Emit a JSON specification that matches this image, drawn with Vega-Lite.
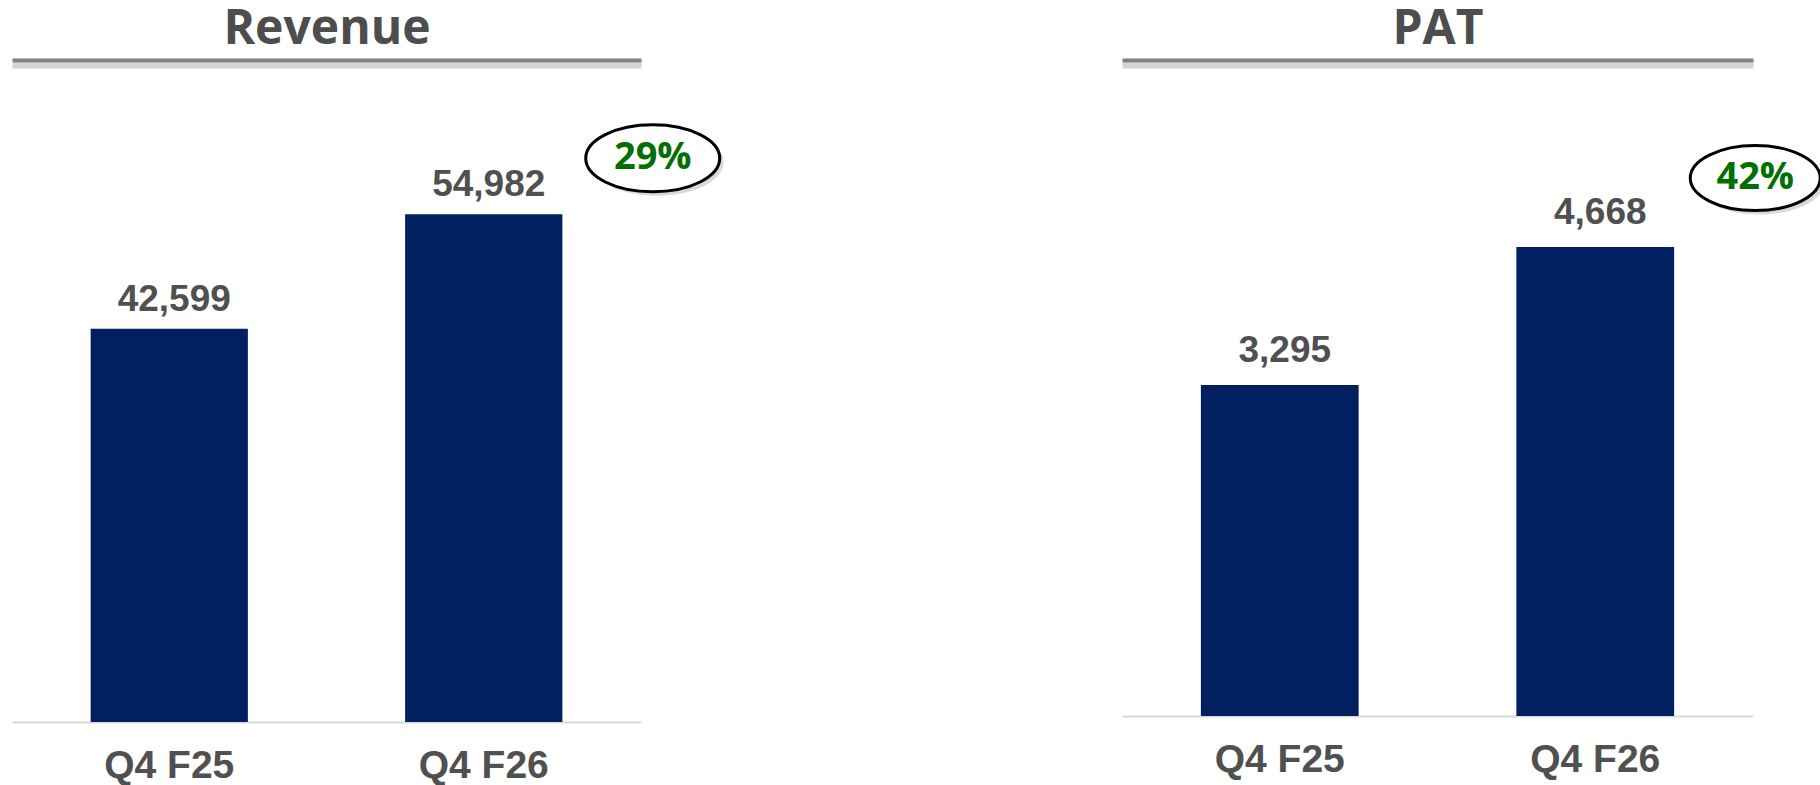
{
  "$schema": "https://vega.github.io/schema/vega-lite/v6.json",
  "background": "white",
  "padding": {"left": 12, "top": 5, "right": 0, "bottom": 0},
  "autosize": {"type": "pad"},
  "bounds": "flush",
  "spacing": 481,
  "config": {"view": {"stroke": null}},
  "datasets": {
    "rev": [{"period": "Q4 F25", "value": 42599}, {"period": "Q4 F26", "value": 54982}],
    "revg": [{"period": "Q4 F26", "value": 54982, "growth": "29%"}],
    "pat": [{"period": "Q4 F25", "value": 3295}, {"period": "Q4 F26", "value": 4668}],
    "patg": [{"period": "Q4 F26", "value": 4668, "growth": "42%"}]
  },
  "hconcat": [
    {
      "width": 629,
      "height": 662,
      "resolve": {"axis": {"x": "independent"}},
      "layer": [
        {
          "data": {"name": "rev"},
          "mark": {"type": "bar", "color": "#021F5F", "width": {"band": 0.5}},
          "encoding": {
            "x": {"field": "period", "type": "nominal", "sort": null, "scale": {"paddingInner": 0, "paddingOuter": 0},
              "axis": {"orient": "bottom", "title": null, "domainColor": "#d9d9d9", "domainWidth": 2, "ticks": false, "tickSize": 0, "labelPadding": 24, "labelFont": "Liberation Sans", "labelFontSize": 39, "labelFontWeight": "bold", "labelColor": "#505050", "labelAngle": 0, "grid": false}},
            "y": {"field": "value", "type": "quantitative", "scale": {"domain": [0, 71700], "nice": false, "zero": true}, "axis": null}
          }
        },
        {
          "data": {"name": "rev"},
          "mark": {"type": "text", "align": "center", "baseline": "alphabetic", "dx": 5, "dy": -18, "font": "Liberation Sans", "fontSize": 37, "fontWeight": "bold", "color": "#505050"},
          "encoding": {
            "x": {"field": "period", "type": "nominal", "sort": null,
              "axis": {"orient": "top", "title": "Revenue", "titleFont": "Open Sans", "titleFontSize": 48, "titleFontWeight": "bold", "titleColor": "#4d4d4d", "titlePadding": 7, "labels": false, "ticks": false, "tickSize": 0, "domainColor": "#808080", "domainWidth": 4, "grid": false, "zindex": 2}},
            "y": {"field": "value", "type": "quantitative", "scale": {"domain": [0, 71700], "nice": false}, "axis": null},
            "text": {"field": "value", "type": "quantitative", "format": ","}
          }
        },
        {
          "data": {"name": "revg"},
          "mark": {"type": "point", "shape": "M 1.582 -0.776 A 1 0.5 0 1 1 3.582 -0.776 A 1 0.5 0 1 1 1.582 -0.776 Z", "size": 17956, "filled": true, "fill": "#a0a0a0", "stroke": null, "opacity": 0.4},
          "encoding": {
            "x": {"field": "period", "type": "nominal", "sort": null,
              "axis": {"orient": "top", "title": null, "labels": false, "ticks": false, "tickSize": 0, "domainColor": "#d4d4d4", "domainWidth": 6, "offset": -5, "grid": false, "zindex": 1}},
            "y": {"field": "value", "type": "quantitative", "scale": {"domain": [0, 71700], "nice": false}, "axis": null}
          }
        },
        {
          "data": {"name": "revg"},
          "mark": {"type": "point", "shape": "M 1.522 -0.836 A 1 0.5 0 1 1 3.522 -0.836 A 1 0.5 0 1 1 1.522 -0.836 Z", "size": 17956, "filled": true, "fill": "white", "stroke": "black", "strokeWidth": 3, "opacity": 1},
          "encoding": {
            "x": {"field": "period", "type": "nominal", "sort": null, "axis": null},
            "y": {"field": "value", "type": "quantitative", "scale": {"domain": [0, 71700], "nice": false}, "axis": null}
          }
        },
        {
          "data": {"name": "revg"},
          "mark": {"type": "text", "align": "center", "baseline": "middle", "dx": 169, "dy": -56, "font": "Open Sans", "fontSize": 38, "fontWeight": "bold", "color": "#007000"},
          "encoding": {
            "x": {"field": "period", "type": "nominal", "sort": null, "axis": null},
            "y": {"field": "value", "type": "quantitative", "scale": {"domain": [0, 71700], "nice": false}, "axis": null},
            "text": {"field": "growth", "type": "nominal"}
          }
        }
      ]
    },
    {
      "width": 631,
      "height": 656,
      "resolve": {"axis": {"x": "independent"}},
      "layer": [
        {
          "data": {"name": "pat"},
          "mark": {"type": "bar", "color": "#021F5F", "width": {"band": 0.5}},
          "encoding": {
            "x": {"field": "period", "type": "nominal", "sort": null, "scale": {"paddingInner": 0, "paddingOuter": 0},
              "axis": {"orient": "bottom", "title": null, "domainColor": "#d9d9d9", "domainWidth": 2, "ticks": false, "tickSize": 0, "labelPadding": 24, "labelFont": "Liberation Sans", "labelFontSize": 39, "labelFontWeight": "bold", "labelColor": "#505050", "labelAngle": 0, "grid": false}},
            "y": {"field": "value", "type": "quantitative", "scale": {"domain": [0, 6530], "nice": false, "zero": true}, "axis": null}
          }
        },
        {
          "data": {"name": "pat"},
          "mark": {"type": "text", "align": "center", "baseline": "alphabetic", "dx": 5, "dy": -23, "font": "Liberation Sans", "fontSize": 37, "fontWeight": "bold", "color": "#505050"},
          "encoding": {
            "x": {"field": "period", "type": "nominal", "sort": null,
              "axis": {"orient": "top", "title": "PAT", "titleFont": "Open Sans", "titleFontSize": 48, "titleFontWeight": "bold", "titleColor": "#4d4d4d", "titlePadding": 7, "labels": false, "ticks": false, "tickSize": 0, "domainColor": "#808080", "domainWidth": 4, "grid": false, "zindex": 2}},
            "y": {"field": "value", "type": "quantitative", "scale": {"domain": [0, 6530], "nice": false}, "axis": null},
            "text": {"field": "value", "type": "quantitative", "format": ","}
          }
        },
        {
          "data": {"name": "patg"},
          "mark": {"type": "point", "shape": "M 1.523 -1 A 1 0.5 0 1 1 3.523 -1 A 1 0.5 0 1 1 1.523 -1 Z", "size": 16900, "filled": true, "fill": "#a0a0a0", "stroke": null, "opacity": 0.4},
          "encoding": {
            "x": {"field": "period", "type": "nominal", "sort": null,
              "axis": {"orient": "top", "title": null, "labels": false, "ticks": false, "tickSize": 0, "domainColor": "#d4d4d4", "domainWidth": 6, "offset": -5, "grid": false, "zindex": 1}},
            "y": {"field": "value", "type": "quantitative", "scale": {"domain": [0, 6530], "nice": false}, "axis": null}
          }
        },
        {
          "data": {"name": "patg"},
          "mark": {"type": "point", "shape": "M 1.4615 -1.0615 A 1 0.5 0 1 1 3.4615 -1.0615 A 1 0.5 0 1 1 1.4615 -1.0615 Z", "size": 16900, "filled": true, "fill": "white", "stroke": "black", "strokeWidth": 3, "opacity": 1},
          "encoding": {
            "x": {"field": "period", "type": "nominal", "sort": null, "axis": null},
            "y": {"field": "value", "type": "quantitative", "scale": {"domain": [0, 6530], "nice": false}, "axis": null}
          }
        },
        {
          "data": {"name": "patg"},
          "mark": {"type": "text", "align": "center", "baseline": "middle", "dx": 160, "dy": -69, "font": "Open Sans", "fontSize": 38, "fontWeight": "bold", "color": "#007000"},
          "encoding": {
            "x": {"field": "period", "type": "nominal", "sort": null, "axis": null},
            "y": {"field": "value", "type": "quantitative", "scale": {"domain": [0, 6530], "nice": false}, "axis": null},
            "text": {"field": "growth", "type": "nominal"}
          }
        }
      ]
    }
  ]
}
